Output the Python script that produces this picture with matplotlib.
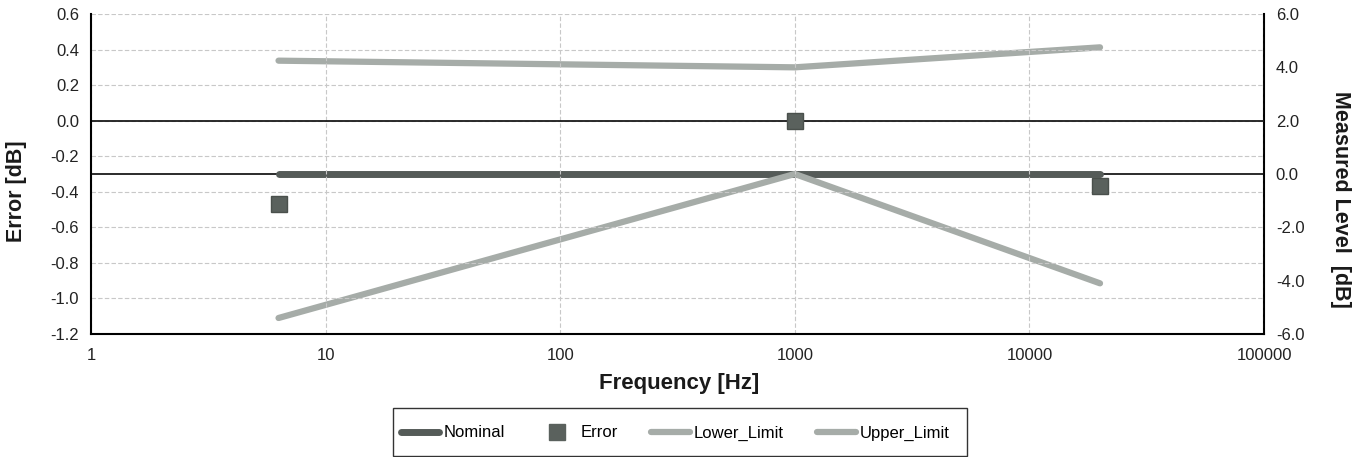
import matplotlib
matplotlib.use("Agg")
import matplotlib.pyplot as plt
from matplotlib.lines import Line2D
from matplotlib.patches import Rectangle

plt.rcParams['font.family'] = ['Liberation Sans', 'DejaVu Sans']

# Data
freq = [6.3, 1000, 20000]
nominal = [0.0, 0.0, 0.0]          # Measured Level [dB] (right axis)
error = [-0.47, 0.0, -0.37]        # Error [dB] (left axis)
lower_limit = [-5.4, 0.0, -4.1]    # right axis
upper_limit = [4.25, 4.0, 4.75]    # right axis

left_ticks = [-1.2, -1.0, -0.8, -0.6, -0.4, -0.2, 0.0, 0.2, 0.4, 0.6]
right_ticks = [-6.0, -4.0, -2.0, 0.0, 2.0, 4.0, 6.0]
x_ticks = [1, 10, 100, 1000, 10000, 100000]

W, H = 1368, 457
fig = plt.figure(figsize=(W / 100, H / 100), dpi=100)
fig.patch.set_facecolor('white')
ax = fig.add_axes([91 / W, 1 - 334 / H, (1264 - 91) / W, (334 - 14) / H])
ax2 = ax.twinx()

ax.set_xscale('log')
ax.set_xlim(1, 100000)
ax.set_ylim(-1.2, 0.6)
ax2.set_ylim(-6.0, 6.0)

grid_c = '#c8c8c8'
ax.set_yticks(left_ticks)
ax.set_yticklabels([f"{v:.1f}" for v in left_ticks])
ax2.set_yticks(right_ticks)
ax2.set_yticklabels([f"{v:.1f}" for v in right_ticks])
ax.set_xticks(x_ticks)
ax.set_xticklabels([str(v) for v in x_ticks])
ax.xaxis.set_minor_locator(matplotlib.ticker.NullLocator())
ax.grid(True, which='major', color=grid_c, linestyle=(0, (4, 2)), linewidth=0.8)
ax.set_axisbelow(True)

# axis lines at zero
ax.axhline(0.0, color='#1a1a1a', linewidth=1.3, zorder=2)
ax2.axhline(0.0, color='#1a1a1a', linewidth=1.3, zorder=2)

for a in (ax, ax2):
    a.tick_params(axis='y', length=0, labelsize=12, colors='#222222', pad=8.5)
ax.tick_params(axis='x', length=0, labelsize=12, colors='#222222', pad=10)
ax.spines['top'].set_visible(False)
ax.spines['right'].set_visible(False)
ax2.spines['left'].set_visible(False)
ax2.spines['top'].set_visible(False)
ax2.spines['bottom'].set_visible(False)
ax.spines['left'].set_linewidth(1.5)
ax.spines['bottom'].set_linewidth(1.5)
ax2.spines['right'].set_linewidth(1.5)

lim_c = '#a6aca8'
nom_c = '#555b58'
err_c = '#5a615d'

ax2.plot(freq, nominal, color=nom_c, linewidth=5, solid_capstyle='round', zorder=3)
ax2.plot(freq, lower_limit, color=lim_c, linewidth=4.5, solid_capstyle='round', zorder=3)
ax2.plot(freq, upper_limit, color=lim_c, linewidth=4.5, solid_capstyle='round', zorder=3)
ax.set_zorder(ax2.get_zorder() + 1)
ax.patch.set_visible(False)
ax.plot(freq, error, linestyle='none', marker='s', markersize=12, color=err_c,
        markeredgecolor='#4a504c', zorder=5)

fig.text(679 / W, 1 - 383 / H, 'Frequency [Hz]', fontsize=16, fontweight='bold',
         ha='center', va='center', color='#1a1a1a')
fig.text(17 / W, 1 - 191 / H, 'Error [dB]', fontsize=15.5, fontweight='bold',
         rotation=90, ha='center', va='center', color='#1a1a1a')
fig.text(1340 / W, 1 - 199 / H, 'Measured Level  [dB]', fontsize=15.5, fontweight='bold',
         rotation=270, ha='center', va='center', color='#1a1a1a')

handles = [
    Line2D([], [], color=nom_c, linewidth=5, solid_capstyle='round'),
    Line2D([], [], color=err_c, marker='s', linestyle='none', markersize=11),
    Line2D([], [], color=lim_c, linewidth=4.5, solid_capstyle='round'),
    Line2D([], [], color=lim_c, linewidth=4.5, solid_capstyle='round'),
]
labels = ['Nominal', 'Error', 'Lower_Limit', 'Upper_Limit']
leg = fig.legend(handles, labels, loc='center left', bbox_to_anchor=(401 / W, 1 - 433 / H),
                 ncol=4, frameon=False, fontsize=12,
                 handlelength=2.3, columnspacing=2.0, handletextpad=0.25,
                 borderpad=0, borderaxespad=0)
fig.add_artist(Rectangle((393 / W, 1 - 456 / H), (967 - 393) / W, (456 - 408) / H,
                         transform=fig.transFigure, fill=False, edgecolor='#333333',
                         linewidth=1.0))

fig.savefig('out.png', dpi=100, facecolor='white')
